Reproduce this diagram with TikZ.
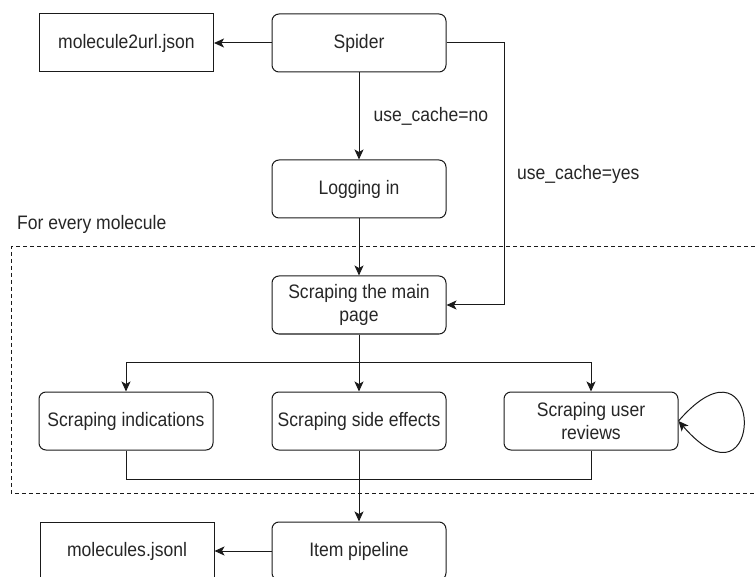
\documentclass[tikz,border=0pt]{standalone}
\usepackage{fontspec}
\setmainfont[FakeStretch=0.9]{Liberation Sans}
\usetikzlibrary{arrows.meta}
\definecolor{linec}{HTML}{1A1A1A}
\definecolor{txtc}{HTML}{262626}
\newcommand\myfs{\fontsize{19.5}{22.5}\selectfont}
\begin{document}
\begin{tikzpicture}[x=1pt,y=-1pt,
  box/.style={draw=linec, line width=1pt, minimum width=174pt, minimum height=58pt, inner sep=0pt, align=center, font=\myfs, text=txtc},
  rbox/.style={box, rounded corners=7pt},
  conn/.style={draw=linec, line width=1pt},
  arr/.style={conn, -{Stealth[length=10pt,width=9pt,inset=2.5pt]}},
  lbl/.style={font=\myfs, text=txtc, anchor=west, inner sep=0pt},
  container/.style={draw=linec, line width=1pt, dash pattern=on 4pt off 3pt}]
\useasboundingbox (0,0) rectangle (755,577);
% container
\draw[container] (762,247) -- (11,247) -- (11,493) -- (762,493);
\node[lbl] (fem) at (17,224) {For every molecule};
% nodes
\node[box]  (m2u)    at (126.5,43) {molecule2url.json};
\node[rbox] (spider) at (359,43)   {Spider};
\node[rbox] (login)  at (359,189)  {Logging in};
\node[rbox] (main)   at (359,305)  {Scraping the main\\page};
\node[rbox] (ind)    at (126,421)  {Scraping indications};
\node[rbox] (side)   at (359,421)  {Scraping side effects};
\node[rbox] (rev)    at (591,421)  {Scraping user\\reviews};
\node[rbox] (pipe)   at (359,551)  {Item pipeline};
\node[box]  (mjs)    at (127,551)  {molecules.jsonl};
% connectors
\draw[arr] (spider) -- (m2u);
\draw[arr] (spider) -- node[lbl, midway, xshift=14pt] {use\_cache=no} (login);
\draw[arr] (spider.east) -- ++(58,0) |- node[lbl, pos=0.25, xshift=12pt] {use\_cache=yes} (main.east);
\draw[arr] (login) -- (main);
\draw[arr] (main.south) -- ++(0,28) -| (ind.north);
\draw[arr] (main) -- (side);
\draw[arr] (main.south) -- ++(0,28) -| (rev.north);
\draw[conn] (ind.south) -- ++(0,29) -| (rev.south);
\draw[arr] (side) -- (pipe);
\draw[arr] (pipe) -- (mjs);
\draw[arr] (rev.east) .. controls +(87,-100) and +(87,100) .. (rev.east);
\end{tikzpicture}
\end{document}
